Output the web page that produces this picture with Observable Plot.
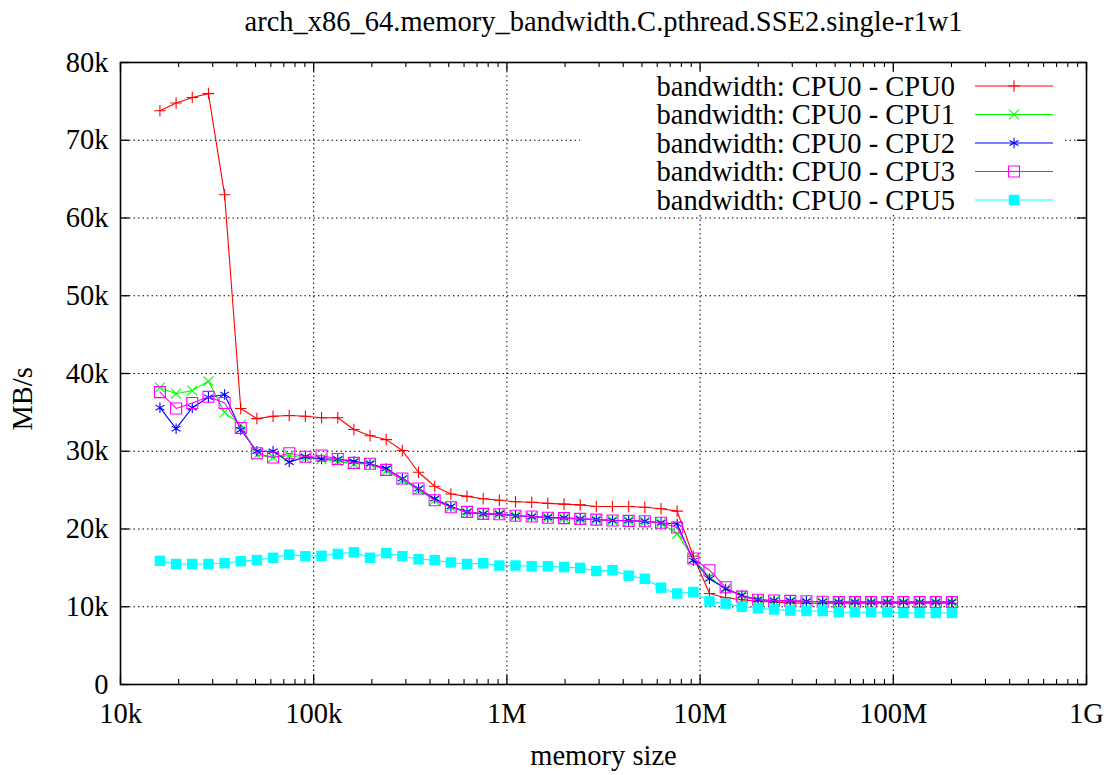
<!DOCTYPE html>
<html><head><meta charset="utf-8">
<script src="https://cdn.jsdelivr.net/npm/d3@7"></script>
<script src="https://cdn.jsdelivr.net/npm/@observablehq/plot@0.6"></script>
<style>
body{margin:0;background:#fff;}
#wrap{position:relative;width:1112px;height:775px;}
#legend{position:absolute;left:0;top:0;pointer-events:none;}
</style></head><body>
<div id="wrap"><div id="chart"></div><svg id="legend" width="1112" height="775"></svg></div>
<script>
const title = "arch_x86_64.memory_bandwidth.C.pthread.SSE2.single-r1w1";
const xLabel = "memory size";
const yLabel = "MB/s";

// memory sizes (bytes)
const sizes = [16000,19400,23520,28520,34570,41920,50820,61620,74700,90580,
  109800,133200,161400,195700,237300,287700,348800,422900,512900,621700,
  753900,914100,1108000,1344000,1629000,1975000,2395000,2903000,3520000,4268000,
  5175000,6275000,7606000,9223000,11180000,13560000,16440000,19930000,24160000,29300000,
  35520000,43070000,52220000,63320000,76770000,93070000,112900000,136800000,165900000,201100000];

// bandwidth in thousands of MB/s
const cpu0 = [73.8,74.8,75.5,76.0,63.0,35.5,34.2,34.5,34.6,34.5,
  34.3,34.3,32.8,32.0,31.5,30.1,27.3,25.5,24.5,24.2,
  23.9,23.7,23.5,23.45,23.3,23.2,23.1,22.9,22.9,22.9,
  22.8,22.6,22.3,16.5,11.7,11.15,10.9,10.7,10.6,10.5,
  10.45,10.45,10.45,10.45,10.45,10.45,10.45,10.45,10.45,10.45];
const cpu1 = [38.2,37.4,37.8,39.0,35.0,33.4,29.5,29.2,29.45,29.1,
  29.0,28.7,28.4,28.4,27.5,26.3,25.0,23.7,22.8,22.1,
  21.9,21.9,21.7,21.55,21.45,21.4,21.25,21.2,21.1,21.05,
  20.95,20.75,19.4,16.2,13.8,12.3,11.45,10.9,10.75,10.7,
  10.65,10.6,10.6,10.6,10.6,10.6,10.6,10.6,10.6,10.6];
const cpu2 = [35.6,32.9,35.6,36.95,37.3,32.75,30.0,30.0,28.6,29.3,
  29.0,29.0,28.7,28.4,27.8,26.5,25.2,23.9,22.9,22.2,
  21.95,21.95,21.7,21.6,21.5,21.45,21.3,21.2,21.1,21.1,
  21.0,20.8,20.65,15.95,13.6,12.3,11.45,10.9,10.8,10.75,
  10.7,10.65,10.6,10.6,10.6,10.6,10.6,10.6,10.6,10.6];
const cpu3 = [37.6,35.5,36.2,37.0,36.2,33.0,29.75,29.2,29.75,29.3,
  29.45,29.0,28.5,28.4,27.6,26.5,25.2,23.7,22.8,22.2,
  21.95,21.9,21.7,21.6,21.45,21.4,21.3,21.2,21.1,21.05,
  21.0,20.8,20.2,16.2,14.7,12.5,11.3,10.9,10.8,10.75,
  10.7,10.65,10.6,10.6,10.6,10.6,10.6,10.6,10.6,10.6];
const cpu5 = [15.9,15.5,15.5,15.5,15.6,15.85,16.0,16.3,16.7,16.5,
  16.55,16.8,17.0,16.3,16.9,16.5,16.1,16.0,15.7,15.5,
  15.6,15.3,15.3,15.2,15.2,15.1,15.0,14.6,14.7,14.0,
  13.6,12.45,11.7,11.9,10.7,10.4,10.0,9.8,9.65,9.5,
  9.45,9.45,9.3,9.3,9.3,9.3,9.2,9.2,9.2,9.2];

const seriesNames = ["bandwidth: CPU0 - CPU0","bandwidth: CPU0 - CPU1","bandwidth: CPU0 - CPU2","bandwidth: CPU0 - CPU3","bandwidth: CPU0 - CPU5"];
const seriesValues = [cpu0, cpu1, cpu2, cpu3, cpu5];
const seriesColors = ["#ff0000","#00ff00","#0000ff","#ff00ff","#00ffff"];
const seriesSymbols = ["plus","times","asterisk","square2","square"];
const seriesR = [3.8, 4.6, 4.9, 7.0, 5.9];
const seriesFilled = [false,false,false,false,true];

const xTicks = [1e4,1e5,1e6,1e7,1e8,1e9];
const xTickLabels = ["10k","100k","1M","10M","100M","1G"];
const yTicks = [0,10000,20000,30000,40000,50000,60000,70000,80000];
const yTickLabels = ["0","10k","20k","30k","40k","50k","60k","70k","80k"];

const W = 1112, H = 775, mL = 120, mR = 26, mT = 62, mB = 91;
const FW = W - mL - mR, FH = H - mT - mB;
const FONT = "'Liberation Serif','Times New Roman',Times,serif";
const FS = 28.5;

const minorTicks = [];
for (const d of xTicks.slice(0, -1)) for (let k = 2; k <= 9; k++) minorTicks.push(d * k);

const seriesData = seriesValues.map((vals, s) => vals.map((v, i) => ({series: seriesNames[s], size: sizes[i], bw: v * 1000})));

const grid = {stroke: "black", strokeWidth: 1, strokeDasharray: "1.5,3"};
const marks = [
  Plot.ruleX(xTicks.slice(1, -1), {...grid}),
  Plot.ruleY(yTicks.slice(1, -1), {...grid}),
  // inward ticks
  Plot.ruleX(xTicks, {stroke: "black", strokeWidth: 1.3, insetTop: FH - 9}),
  Plot.ruleX(xTicks, {stroke: "black", strokeWidth: 1.3, insetBottom: FH - 9}),
  Plot.ruleX(minorTicks, {stroke: "black", strokeWidth: 1.1, insetTop: FH - 5}),
  Plot.ruleX(minorTicks, {stroke: "black", strokeWidth: 1.1, insetBottom: FH - 5}),
  Plot.ruleY(yTicks, {stroke: "black", strokeWidth: 1.3, insetRight: FW - 9}),
  Plot.ruleY(yTicks, {stroke: "black", strokeWidth: 1.3, insetLeft: FW - 9}),
  Plot.axisX(xTicks, {tickSize: 0, tickPadding: 18, tickFormat: d => xTickLabels[xTicks.indexOf(d)], label: null, fontSize: FS}),
  Plot.axisY(yTicks, {tickSize: 0, tickPadding: 12, tickFormat: d => yTickLabels[yTicks.indexOf(d)], label: null, fontSize: FS}),
];
seriesData.forEach((data, s) => {
  marks.push(Plot.line(data, {x: "size", y: "bw", stroke: seriesColors[s], strokeWidth: 1.1}));
  marks.push(Plot.dot(data, {x: "size", y: "bw", symbol: () => seriesSymbols[s], r: seriesR[s],
    stroke: seriesFilled[s] ? "none" : seriesColors[s], fill: seriesFilled[s] ? seriesColors[s] : "none", strokeWidth: 1.1}));
});
marks.push(Plot.frame({stroke: "black", strokeWidth: 1.6}));
marks.push(Plot.text([title], {frameAnchor: "top", dy: -52, fontSize: FS, text: d => d}));
marks.push(Plot.text([xLabel], {frameAnchor: "bottom", dy: 80, fontSize: FS, text: d => d}));
marks.push(Plot.text([yLabel], {frameAnchor: "left", dx: -98, dy: 57, rotate: -90, fontSize: FS, text: d => d}));

const chart = Plot.plot({
  width: W, height: H, marginLeft: mL, marginRight: mR, marginTop: mT, marginBottom: mB,
  style: {fontFamily: FONT, fontSize: FS + "px", background: "white", color: "black"},
  x: {type: "log", domain: [1e4, 1e9]},
  y: {type: "linear", domain: [0, 80000]},
  symbol: {domain: seriesSymbols, range: seriesSymbols},
  marks
});
document.getElementById("chart").appendChild(chart);

// legend (key box) drawn over the grid
const lg = d3.select("#legend");
lg.append("rect").attr("x", 580).attr("y", 72).attr("width", 485).attr("height", 142).attr("fill", "white");
const rowY = [86, 114.5, 143, 171.5, 200];
const symMap = {plus: d3.symbolPlus, times: d3.symbolTimes, asterisk: d3.symbolAsterisk, square2: d3.symbolSquare2, square: d3.symbolSquare};
seriesNames.forEach((name, s) => {
  const y = rowY[s];
  lg.append("text").attr("x", 955).attr("y", y).attr("dy", "0.34em").attr("text-anchor", "end")
    .attr("font-family", FONT).attr("font-size", FS).attr("fill", "black").text(name);
  lg.append("line").attr("x1", 975).attr("x2", 1053).attr("y1", y).attr("y2", y)
    .attr("stroke", seriesColors[s]).attr("stroke-width", 1.1);
  lg.append("path").attr("transform", `translate(1014,${y})`)
    .attr("d", d3.symbol(symMap[seriesSymbols[s]], Math.PI * seriesR[s] * seriesR[s])())
    .attr("stroke", seriesFilled[s] ? "none" : seriesColors[s]).attr("fill", seriesFilled[s] ? seriesColors[s] : "none")
    .attr("stroke-width", 1.1);
  if (seriesSymbols[s] === "square2") {
    lg.append("circle").attr("cx", 1014).attr("cy", y).attr("r", 0.8).attr("fill", seriesColors[s]);
  }
});
</script>
</body></html>
